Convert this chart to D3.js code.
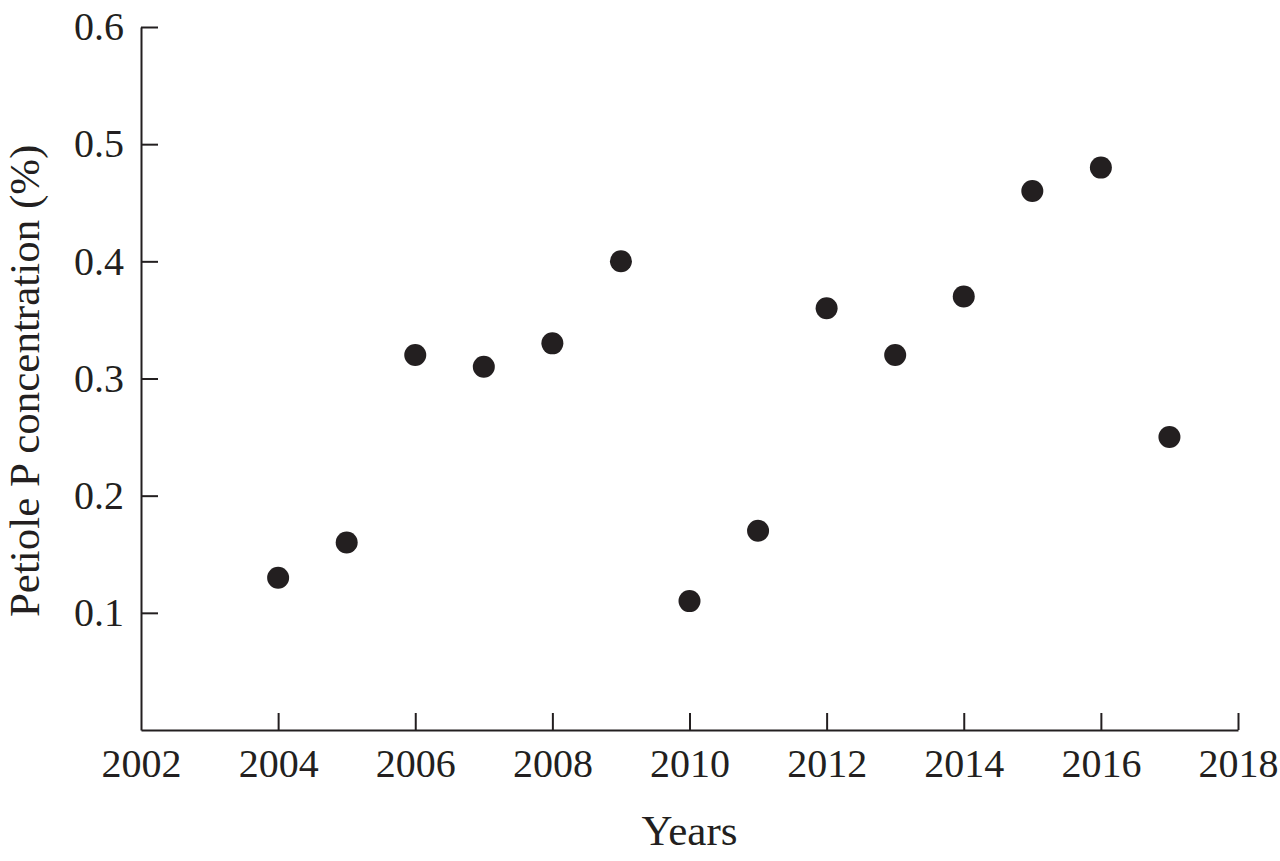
<!DOCTYPE html>
<html>
<head>
<meta charset="utf-8">
<script src="https://cdn.jsdelivr.net/npm/d3@7"></script>
<style>
  body { margin: 0; background: #fff; }
  svg text { font-family: "Liberation Serif", "DejaVu Serif", serif; fill: #231f20; }
</style>
</head>
<body>
<div id="chart"></div>
<script>
(function(){
  // data
  const years = [2004, 2005, 2006, 2007, 2008, 2009, 2010, 2011, 2012, 2013, 2014, 2015, 2016, 2017];
  const petioleP = [0.13, 0.16, 0.32, 0.31, 0.33, 0.40, 0.11, 0.17, 0.36, 0.32, 0.37, 0.46, 0.48, 0.25];
  const xTicks = [2002, 2004, 2006, 2008, 2010, 2012, 2014, 2016, 2018];
  const yTicks = [0.1, 0.2, 0.3, 0.4, 0.5, 0.6];

  const width = 1280, height = 861;
  const margin = { left: 141, right: 42, top: 27, bottom: 131 };
  const ink = "#231f20";

  const svg = d3.select("#chart").append("svg")
    .attr("width", width).attr("height", height);

  const x = d3.scaleLinear().domain([2002, 2018]).range([margin.left, width - margin.right]);
  const y = d3.scaleLinear().domain([0, 0.6]).range([height - margin.bottom, margin.top]);

  // x axis, ticks point inward
  const gx = svg.append("g")
    .attr("transform", `translate(0,${y(0)})`)
    .call(d3.axisBottom(x).tickValues(xTicks).tickFormat(d3.format("d"))
      .tickSizeInner(-17).tickSizeOuter(0));
  gx.select(".domain").attr("stroke", ink).attr("stroke-width", 2);
  gx.selectAll(".tick line").attr("stroke", ink).attr("stroke-width", 2);
  gx.selectAll(".tick").filter(d => d === 2002).select("line").remove();
  gx.selectAll("text").attr("font-size", 40).attr("dy", "0.71em").attr("y", 19);

  // y axis
  const gy = svg.append("g")
    .attr("transform", `translate(${x(2002)},0)`)
    .call(d3.axisLeft(y).tickValues(yTicks).tickFormat(d3.format(".1f"))
      .tickSizeInner(-17).tickSizeOuter(0));
  gy.select(".domain").attr("stroke", ink).attr("stroke-width", 2);
  gy.selectAll(".tick line").attr("stroke", ink).attr("stroke-width", 2);
  gy.selectAll("text").attr("font-size", 40).attr("x", -17);

  // points
  svg.append("g").selectAll("circle")
    .data(years.map((yr, i) => ({ yr, v: petioleP[i] })))
    .join("circle")
    .attr("cx", d => x(d.yr))
    .attr("cy", d => y(d.v))
    .attr("r", 11)
    .attr("fill", ink);

  // axis titles
  svg.append("text")
    .attr("x", (x(2002) + x(2018)) / 2)
    .attr("y", 845)
    .attr("text-anchor", "middle")
    .attr("font-size", 43)
    .text("Years");

  svg.append("text")
    .attr("transform", `translate(39,${y(0.298)}) rotate(-90)`)
    .attr("text-anchor", "middle")
    .attr("font-size", 43)
    .text("Petiole P concentration (%)");
})();
</script>
</body>
</html>
